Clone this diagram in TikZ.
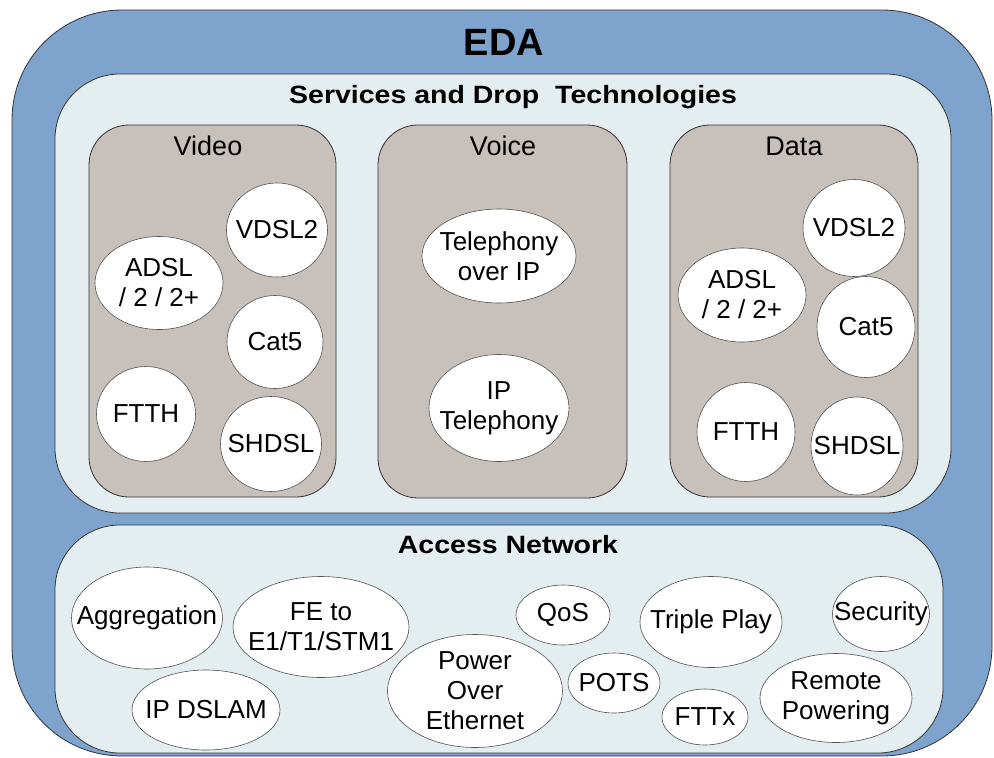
\documentclass[tikz,border=0pt]{standalone}
\usepackage{fontspec}
\setmainfont{Liberation Sans}
\newfontfamily\headfont{Liberation Sans}[FakeStretch=1.14]
\usetikzlibrary{shapes.geometric}

\definecolor{edablue}{HTML}{7EA3CC}
\definecolor{panelfill}{HTML}{E4EDEF}
\definecolor{groupfill}{HTML}{C8C1BB}
\definecolor{edgegray}{HTML}{333333}

\tikzset{
  box/.style={draw=edgegray, line width=0.8pt},
  tech/.style={ellipse, draw=edgegray!85, fill=white, line width=0.6pt, inner sep=0pt},
  techtext/.style={align=center, font=\fontsize{26}{30}\selectfont},
  heading/.style={anchor=base, font=\headfont\bfseries\fontsize{25}{30}\selectfont},
  grouptitle/.style={anchor=base, font=\fontsize{27}{30}\selectfont}
}

\begin{document}
\begin{tikzpicture}[x=1pt, y=-1pt]
\useasboundingbox (0,0) rectangle (994,758);

% outer frame
\draw[box, fill=edablue, rounded corners=110pt] (12,10) rectangle (992,756);
\node[anchor=base, font=\bfseries\fontsize{38}{40}\selectfont] (eda) at (504,55) {EDA};

% services and drop technologies
\draw[box, fill=panelfill, rounded corners=65pt] (55,74) rectangle (951,513);
\node[heading] (services) at (513,103) {Services and Drop\ \ Technologies};

\draw[box, fill=groupfill, rounded corners=40pt] (89,125) rectangle (336,497);
\node[grouptitle] (video) at (208,155) {Video};
\draw[box, fill=groupfill, rounded corners=40pt] (378,125) rectangle (627,498);
\node[grouptitle] (voice) at (503,155) {Voice};
\draw[box, fill=groupfill, rounded corners=40pt] (670,125) rectangle (918,497);
\node[grouptitle] (data) at (794,155) {Data};

% video
\node[tech, minimum width=128pt, minimum height=93pt, label={[techtext]center:{ADSL\\/ 2 / 2+}}] (vadsl) at (159,283) {};
\node[tech, minimum width=101pt, minimum height=94pt, label={[techtext]center:VDSL2}] (vvdsl) at (277,230) {};
\node[tech, minimum width=96pt, minimum height=93pt, label={[techtext]center:Cat5}] (vcat) at (275,342) {};
\node[tech, minimum width=99pt, minimum height=95pt, label={[techtext]center:FTTH}] (vftth) at (146,414) {};
\node[tech, minimum width=101pt, minimum height=95pt, label={[techtext]center:SHDSL}] (vshdsl) at (271,444) {};

% voice
\node[tech, minimum width=154pt, minimum height=94pt, label={[techtext]center:{Telephony\\over IP}}] (toip) at (499,256) {};
\node[tech, minimum width=140pt, minimum height=107pt, label={[techtext]center:{IP\\Telephony}}] (iptel) at (499,408) {};

% data
\node[tech, minimum width=128pt, minimum height=94pt, label={[techtext]center:{ADSL\\/ 2 / 2+}}] (dadsl) at (742,295) {};
\node[tech, minimum width=102pt, minimum height=97pt, label={[techtext]center:VDSL2}] (dvdsl) at (854,228) {};
\node[tech, minimum width=98pt, minimum height=101pt, label={[techtext]center:Cat5}] (dcat) at (866,327) {};
\node[tech, minimum width=98pt, minimum height=99pt, label={[techtext]center:FTTH}] (dftth) at (746,432) {};
\node[tech, minimum width=92pt, minimum height=98pt, label={[techtext]center:SHDSL}] (dshdsl) at (857,446) {};

% access network
\draw[box, fill=panelfill, rounded corners=65pt] (55,525) rectangle (943,753);
\node[heading] (access) at (508,553) {Access Network};

\node[tech, minimum width=151pt, minimum height=102pt, label={[techtext]center:Aggregation}] (aggr) at (147,618) {};
\node[tech, minimum width=176pt, minimum height=101pt, label={[techtext]center:{FE to\\E1/T1/STM1}}] (fe) at (321,627) {};
\node[tech, minimum width=148pt, minimum height=80pt, label={[techtext]center:IP DSLAM}] (dslam) at (206,710) {};
\node[tech, minimum width=175pt, minimum height=113pt, label={[techtext]center:{Power\\Over\\Ethernet}}] (poe) at (475,691) {};
\node[tech, minimum width=94pt, minimum height=60pt, label={[techtext]center:QoS}] (qos) at (563,615) {};
\node[tech, minimum width=142pt, minimum height=91pt, label={[techtext]center:Triple Play}] (triple) at (711,622) {};
\node[tech, minimum width=97pt, minimum height=75pt, label={[techtext]center:Security}] (security) at (881,614) {};
\node[tech, minimum width=92pt, minimum height=60pt, label={[techtext]center:POTS}] (pots) at (614,683) {};
\node[tech, minimum width=86pt, minimum height=56pt, label={[techtext]center:FTTx}] (fttx) at (705,717) {};
\node[tech, minimum width=152pt, minimum height=89pt, label={[techtext]center:{Remote\\Powering}}] (remote) at (836,698) {};
\end{tikzpicture}
\end{document}
